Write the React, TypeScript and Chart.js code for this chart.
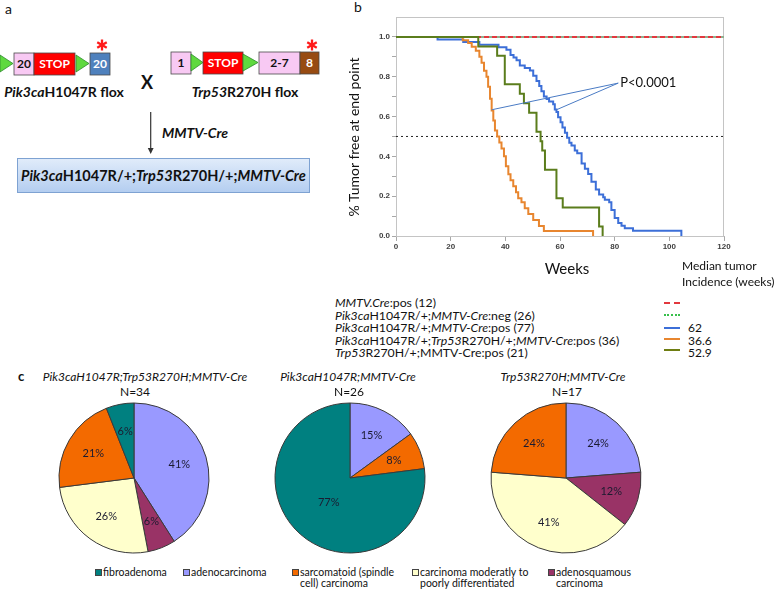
import React, { useEffect, useRef } from "react";
import { Chart, registerables } from "chart.js";
Chart.register(...registerables);

// ---------------- Panel b : Kaplan–Meier data ----------------
const xTickValues = [0, 20, 40, 60, 80, 100, 120];
const yTickValues = [0, 0.2, 0.4, 0.6, 0.8, 1.0];

// Pik3caH1047R/+;MMTV-Cre:pos (77)
const pikWeeks = [0, 15.2, 24.6, 30.5, 37.5, 40.4, 41.9, 43.0, 44.1, 45.3, 47.1, 49.0, 50.2, 51.4, 52.4, 53.2, 54.1, 55.1, 56.0, 57.5, 58.1, 58.7, 59.3, 60.2, 60.9, 61.8, 62.6, 63.4, 64.2, 65.4, 66.3, 67.9, 69.1, 70.3, 71.5, 73.1, 74.3, 75.8, 76.4, 78.0, 78.8, 80.0, 81.3, 82.5, 83.7, 86.7, 104.4];
const pikSurv = [1, 0.987, 0.974, 0.961, 0.948, 0.935, 0.909, 0.896, 0.883, 0.857, 0.844, 0.831, 0.805, 0.779, 0.753, 0.727, 0.701, 0.688, 0.675, 0.662, 0.636, 0.623, 0.597, 0.571, 0.545, 0.519, 0.494, 0.468, 0.455, 0.429, 0.416, 0.364, 0.338, 0.312, 0.273, 0.234, 0.208, 0.195, 0.182, 0.169, 0.130, 0.091, 0.065, 0.052, 0.039, 0.026, 0];

// Pik3caH1047R/+;Trp53R270H/+;MMTV-Cre:pos (36)
const dblWeeks = [0, 24.4, 26.4, 27.7, 29.2, 30.5, 31.3, 32.2, 33.1, 33.7, 34.4, 35.0, 35.6, 36.2, 37.0, 37.8, 38.6, 39.5, 40.2, 41.1, 41.9, 42.9, 43.9, 44.7, 45.9, 47.1, 48.4, 50.2, 52.3, 54.1, 72.1];
const dblSurv = [1, 0.983, 0.97, 0.95, 0.93, 0.90, 0.87, 0.83, 0.80, 0.75, 0.69, 0.63, 0.58, 0.53, 0.50, 0.47, 0.44, 0.40, 0.35, 0.31, 0.28, 0.25, 0.22, 0.19, 0.17, 0.14, 0.11, 0.08, 0.05, 0.025, 0];

// Trp53R270H/+;MMTV-Cre:pos (21)
const trpWeeks = [0, 30.1, 37.0, 39.8, 45.3, 46.8, 48.7, 51.4, 52.9, 53.5, 54.5, 58.7, 61.0, 74.3, 75.6];
const trpSurv = [1, 0.952, 0.905, 0.762, 0.714, 0.667, 0.619, 0.524, 0.476, 0.429, 0.333, 0.190, 0.143, 0.048, 0];

// MMTV.Cre:pos (12) and Pik3ca...:neg (26) : no tumours
const ctrlWeeks = [0, 120];
const ctrlSurv = [1, 1];
const medianLine = [0.5, 0.5];

const pText = "P<0.0001";
const pAnchor = [81.3, 0.768];
const pTargetA = [35.0, 0.634];
const pTargetB = [58.7, 0.634];

const groupMedians = ["", "", "62", "36.6", "52.9"];

// ---------------- Panel c : pie data ----------------
const categories = ["fibroadenoma", "adenocarcinoma", "sarcomatoid (spindle cell) carcinoma", "carcinoma moderatly to poorly differentiated", "adenosquamous carcinoma"];
const pie1Cats = ["adenocarcinoma", "adenosquamous carcinoma", "carcinoma moderatly to poorly differentiated", "sarcomatoid (spindle cell) carcinoma", "fibroadenoma"];
const pie1Vals = [41, 6, 26, 21, 6];
const pie2Cats = ["adenocarcinoma", "sarcomatoid (spindle cell) carcinoma", "fibroadenoma"];
const pie2Vals = [15, 8, 77];
const pie3Cats = ["adenocarcinoma", "adenosquamous carcinoma", "carcinoma moderatly to poorly differentiated", "sarcomatoid (spindle cell) carcinoma"];
const pie3Vals = [24, 12, 41, 24];
const pieNs = ["N=34", "N=26", "N=17"];

// ---------------- styles (kept apart from data) ----------------
const catColor: Record<string, string> = {
  "fibroadenoma": "#008080",
  "adenocarcinoma": "#9999ff",
  "sarcomatoid (spindle cell) carcinoma": "#f36a00",
  "carcinoma moderatly to poorly differentiated": "#ffffcc",
  "adenosquamous carcinoma": "#993366",
};
const legendLines: Record<string, string[]> = {
  "fibroadenoma": ["fibroadenoma"],
  "adenocarcinoma": ["adenocarcinoma"],
  "sarcomatoid (spindle cell) carcinoma": ["sarcomatoid (spindle", "cell) carcinoma"],
  "carcinoma moderatly to poorly differentiated": ["carcinoma moderatly to", "poorly differentiated"],
  "adenosquamous carcinoma": ["adenosquamous", "carcinoma"],
};
const legendX = [95, 183, 292, 412, 548];
const BLUE = "#3c6fd8";
const ORANGE = "#e8862f";
const OLIVE = "#5b7d1c";
const RED = "#e2383e";
const LGREEN = "#38c04c";
const FONT = "Lato, 'Open Sans', sans-serif";

const toXY = (xs: number[], ys: number[]) => xs.map((x, i) => ({ x, y: ys[i] }));

const framePlugin = {
  id: "frame",
  beforeDatasetsDraw(chart: any) {
    const { ctx, chartArea } = chart;
    ctx.save();
    ctx.strokeStyle = "#c4c4c4";
    ctx.lineWidth = 1;
    ctx.strokeRect(chartArea.left + 0.5, chartArea.top + 0.5, chartArea.right - chartArea.left - 1, chartArea.bottom - chartArea.top);
    ctx.restore();
  },
};

const pLabelPlugin = {
  id: "plabel",
  afterDatasetsDraw(chart: any) {
    const { ctx, scales } = chart;
    ctx.save();
    ctx.font = `13px ${FONT}`;
    ctx.fillStyle = "#111";
    ctx.textAlign = "left";
    ctx.textBaseline = "middle";
    ctx.fillText(pText, scales.x.getPixelForValue(pAnchor[0]) + 2, scales.y.getPixelForValue(pAnchor[1]));
    ctx.restore();
  },
};

const pieLabelPlugin = {
  id: "pielabels",
  afterDatasetsDraw(chart: any) {
    const { ctx } = chart;
    const meta = chart.getDatasetMeta(0);
    const vals = chart.data.datasets[0].data as number[];
    const total = vals.reduce((a, b) => a + b, 0);
    ctx.save();
    ctx.font = `11px ${FONT}`;
    ctx.fillStyle = "#1b1b30";
    ctx.textAlign = "center";
    ctx.textBaseline = "middle";
    meta.data.forEach((arc: any, i: number) => {
      const p = arc.getProps(["x", "y", "startAngle", "endAngle", "outerRadius"], true);
      const mid = (p.startAngle + p.endAngle) / 2;
      const f = vals[i] / total > 0.5 ? 0.43 : 0.63;
      ctx.fillText(vals[i] + "%", p.x + Math.cos(mid) * p.outerRadius * f, p.y + Math.sin(mid) * p.outerRadius * f);
    });
    ctx.restore();
  },
};

function kmConfig(): any {
  const line = (data: any, color: string, width: number, extra: any = {}) => ({
    data,
    borderColor: color,
    borderWidth: width,
    pointRadius: 0,
    fill: false,
    tension: 0,
    ...extra,
  });
  return {
    type: "line",
    data: {
      datasets: [
        line([{ x: pAnchor[0], y: pAnchor[1] }, { x: pTargetA[0], y: pTargetA[1] }], "#4a7bc4", 1),
        line([{ x: pAnchor[0], y: pAnchor[1] }, { x: pTargetB[0], y: pTargetB[1] }], "#4a7bc4", 1),
        line(toXY(trpWeeks, trpSurv), OLIVE, 2, { stepped: "before" }),
        line(toXY(dblWeeks, dblSurv), ORANGE, 2, { stepped: "before" }),
        line(toXY(pikWeeks, pikSurv), BLUE, 2, { stepped: "before" }),
        line(toXY(ctrlWeeks, ctrlSurv), RED, 2, { borderDash: [5, 3] }),
        line(toXY(ctrlWeeks, ctrlSurv), "#8fb08f", 2),
        line(toXY(ctrlWeeks, medianLine), "#222", 1, { borderDash: [2, 3] }),
      ],
    },
    options: {
      responsive: false,
      animation: false,
      events: [],
      layout: { padding: { left: 0, right: 54, top: 17, bottom: 0 } },
      plugins: { legend: { display: false }, tooltip: { enabled: false } },
      scales: {
        x: {
          type: "linear",
          min: 0,
          max: 120,
          afterFit: (s: any) => { s.height = 26; },
          afterBuildTicks: (s: any) => { s.ticks = xTickValues.map((v) => ({ value: v })); },
          ticks: { font: { family: "'Liberation Sans', Arial", weight: "bold", size: 8 }, color: "#404040", padding: 1, maxRotation: 0 },
          grid: { drawOnChartArea: false, drawTicks: true, tickLength: 5, color: "#a8a8a8" },
          border: { display: true, color: "#b4b4b4" },
        },
        y: {
          type: "linear",
          min: 0,
          max: 1.1,
          afterFit: (s: any) => { s.width = 56; },
          afterBuildTicks: (s: any) => {
            const t: any[] = [];
            for (let i = 0; i <= 10; i++) t.push({ value: i / 10 });
            s.ticks = t;
          },
          ticks: {
            font: { family: "'Liberation Sans', Arial", weight: "bold", size: 8 },
            color: "#404040",
            padding: 2,
            callback: (v: number) => {
              const hit = yTickValues.find((t) => Math.abs(t - v) < 1e-6);
              return hit === undefined ? "" : hit.toFixed(1);
            },
          },
          grid: { drawOnChartArea: false, drawTicks: true, tickLength: 4, color: "#a8a8a8" },
          border: { display: true, color: "#b4b4b4" },
        },
      },
    },
    plugins: [framePlugin, pLabelPlugin],
  };
}

function pieConfig(cats: string[], vals: number[]): any {
  return {
    type: "pie",
    data: {
      labels: cats,
      datasets: [{ data: vals, backgroundColor: cats.map((c) => catColor[c]), borderColor: "#3a3a3a", borderWidth: 1 }],
    },
    options: {
      responsive: false,
      animation: false,
      events: [],
      radius: 75,
      layout: { padding: 0 },
      plugins: { legend: { display: false }, tooltip: { enabled: false } },
    },
    plugins: [pieLabelPlugin],
  };
}

const abs = (x: number, y: number, extra: any = {}): React.CSSProperties => ({
  position: "absolute",
  left: x,
  top: y,
  whiteSpace: "nowrap",
  ...extra,
});

function Txt({ x, y, size = 12, center = false, children, style = {} }: any) {
  return (
    <div
      style={abs(x, y - size * 0.6, {
        fontSize: size,
        lineHeight: `${size * 1.2}px`,
        transform: center ? "translateX(-50%)" : undefined,
        color: "#111",
        ...style,
      })}
    >
      {children}
    </div>
  );
}

function Asterisk({ cx, cy }: { cx: number; cy: number }) {
  const r = 5.5;
  const angles = [90, 30, 150];
  return (
    <g stroke="#ff1a1a" strokeWidth={2.3}>
      {angles.map((a) => {
        const rad = (a * Math.PI) / 180;
        return <line key={a} x1={cx - Math.cos(rad) * r} y1={cy - Math.sin(rad) * r} x2={cx + Math.cos(rad) * r} y2={cy + Math.sin(rad) * r} />;
      })}
    </g>
  );
}

function Tri({ x0, x1, y0, y1 }: any) {
  return <polygon points={`${x0},${y0} ${x1},${(y0 + y1) / 2} ${x0},${y1}`} fill="#5fd93f" stroke="#2f8a2f" strokeWidth={0.8} />;
}

function Box({ x, w, y, h, fill, label, color }: any) {
  return (
    <g>
      <rect x={x} y={y} width={w} height={h} fill={fill} stroke="#4a4a4a" strokeWidth={0.8} />
      <text x={x + w / 2} y={y + h / 2 + 4.2} textAnchor="middle" fontSize={12} fontWeight="bold" fill={color} fontFamily={FONT}>
        {label}
      </text>
    </g>
  );
}

function PanelA() {
  const y = 53, h = 22;
  return (
    <svg width={340} height={200} style={abs(0, 0)}>
      <defs>
        <linearGradient id="bx" x1="0" y1="0" x2="0" y2="1">
          <stop offset="0" stopColor="#e1ecfa" />
          <stop offset="1" stopColor="#b3cdf0" />
        </linearGradient>
      </defs>
      <Tri x0={0} x1={13} y0={55} y1={72} />
      <Box x={14} w={20} y={y} h={h} fill="#f8c9f3" label="20" color="#111" />
      <Box x={34} w={41} y={y} h={h} fill="#ff0000" label="STOP" color="#fff" />
      <Tri x0={76} x1={89} y0={55} y1={72} />
      <Box x={90} w={20} y={y} h={h} fill="#4f81bd" label="20" color="#fff" />
      <Asterisk cx={102} cy={45} />
      <text x={147} y={88.5} textAnchor="middle" fontSize={18} fontWeight="bold" fontFamily={FONT} fill="#111">X</text>
      <text x={64} y={97} textAnchor="middle" fontSize={14} fontWeight="bold" fontFamily={FONT} fill="#111">
        <tspan fontStyle="italic">Pik3ca</tspan>H1047R flox
      </text>

      <Box x={171} w={20} y={y - 1} h={h} fill="#f8c9f3" label="1" color="#111" />
      <Tri x0={191} x1={203} y0={54} y1={71} />
      <Box x={203} w={40} y={y - 1} h={h} fill="#ff0000" label="STOP" color="#fff" />
      <Tri x0={243} x1={258} y0={54} y1={71} />
      <Box x={259} w={41} y={y - 1} h={h} fill="#f8c9f3" label="2-7" color="#111" />
      <Box x={300} w={19} y={y - 1} h={h} fill="#974b12" label="8" color="#fff" />
      <Asterisk cx={312} cy={45} />
      <text x={245} y={97} textAnchor="middle" fontSize={14} fontWeight="bold" fontFamily={FONT} fill="#111">
        <tspan fontStyle="italic">Trp53</tspan>R270H flox
      </text>

      <line x1={150.7} y1={112} x2={150.7} y2={149} stroke="#333" strokeWidth={1.2} />
      <polygon points="147.8,148 153.6,148 150.7,154" fill="#333" />
      <text x={162} y={138} fontSize={14} fontWeight="bold" fontStyle="italic" fontFamily={FONT} fill="#111">MMTV-Cre</text>

      <rect x={17.5} y={158.5} width={292} height={34} fill="url(#bx)" stroke="#7ea2d2" strokeWidth={1} />
      <text x={163.5} y={181} textAnchor="middle" fontSize={14.5} fontWeight="bold" fontFamily={FONT} fill="#111">
        <tspan fontStyle="italic">Pik3ca</tspan>H1047R/+;<tspan fontStyle="italic">Trp53</tspan>R270H/+;<tspan fontStyle="italic">MMTV-Cre</tspan>
      </text>
    </svg>
  );
}

function LegendMark({ y, kind, color }: any) {
  const base: any = { position: "absolute", left: 664, top: y - 1.25, width: 16, height: 0 };
  if (kind === "dash") return <div style={{ ...base, borderTop: `2.5px dashed ${color}` }} />;
  if (kind === "dot") return <div style={{ ...base, borderTop: `2.5px dotted ${color}` }} />;
  return <div style={{ ...base, borderTop: `2.5px solid ${color}` }} />;
}

export default function App() {
  const kmRef = useRef<HTMLCanvasElement>(null);
  const p1 = useRef<HTMLCanvasElement>(null);
  const p2 = useRef<HTMLCanvasElement>(null);
  const p3 = useRef<HTMLCanvasElement>(null);

  useEffect(() => {
    const charts: Chart[] = [];
    charts.push(new Chart(kmRef.current!, kmConfig()));
    charts.push(new Chart(p1.current!, pieConfig(pie1Cats, pie1Vals)));
    charts.push(new Chart(p2.current!, pieConfig(pie2Cats, pie2Vals)));
    charts.push(new Chart(p3.current!, pieConfig(pie3Cats, pie3Vals)));
    return () => charts.forEach((c) => c.destroy());
  }, []);

  const legY = [303.5, 316, 328.5, 341, 353.5];
  const markKinds = [
    { kind: "dash", color: RED, y: 303 },
    { kind: "dot", color: LGREEN, y: 315 },
    { kind: "solid", color: BLUE, y: 328 },
    { kind: "solid", color: ORANGE, y: 339 },
    { kind: "solid", color: "#6e7d12", y: 350.5 },
  ];
  const groupText = [
    <><i>MMTV.Cre</i>:pos (12)</>,
    <><i>Pik3ca</i>H1047R/+;<i>MMTV-Cre</i>:neg (26)</>,
    <><i>Pik3ca</i>H1047R/+;<i>MMTV-Cre</i>:pos (77)</>,
    <><i>Pik3ca</i>H1047R/+;<i>Trp53</i>R270H/+;<i>MMTV-Cre</i>:pos (36)</>,
    <><i>Trp53</i>R270H/+;MMTV-Cre:pos (21)</>,
  ];
  const pieCenters = [134, 350, 566];
  const pieTitles = [
    { t: "Pik3caH1047R;Trp53R270H;MMTV-Cre", x: 145, nx: 135 },
    { t: "Pik3caH1047R;MMTV-Cre", x: 348, nx: 349 },
    { t: "Trp53R270H;MMTV-Cre", x: 563, nx: 567 },
  ];
  const pieRefs = [p1, p2, p3];

  return (
    <div style={{ position: "absolute", left: 0, top: 0, width: 778, height: 590, background: "#fff", overflow: "hidden", fontFamily: FONT, color: "#111" }}>
      <Txt x={5} y={9} size={14}>a</Txt>
      <PanelA />

      <Txt x={354} y={7} size={14}>b</Txt>
      <canvas ref={kmRef} width={438} height={262} style={abs(340, 0)} />
      <div style={abs(353, 137, { transform: "translate(-50%,-50%) rotate(-90deg)", fontSize: 14, lineHeight: "17px" })}>% Tumor free at end point</div>
      <Txt x={567} y={268} size={15} center>Weeks</Txt>
      <Txt x={682} y={266} size={12}>Median tumor</Txt>
      <Txt x={682} y={282} size={12}>Incidence (weeks)</Txt>

      {groupText.map((g, i) => (
        <Txt key={i} x={335} y={legY[i]} size={12.3} style={{ lineHeight: "14px" }}>{g}</Txt>
      ))}
      {markKinds.map((m, i) => (
        <LegendMark key={i} y={m.y} kind={m.kind} color={m.color} />
      ))}
      {groupMedians.map((m, i) => (m ? <Txt key={i} x={688} y={legY[i]} size={12}>{m}</Txt> : null))}

      <Txt x={18} y={377} size={13} style={{ fontWeight: "bold" }}>c</Txt>
      {pieTitles.map((p, i) => (
        <React.Fragment key={i}>
          <Txt x={p.x} y={377} size={12} center style={{ fontStyle: "italic" }}>{p.t}</Txt>
          <Txt x={p.nx} y={392} size={12} center>{pieNs[i]}</Txt>
        </React.Fragment>
      ))}
      {pieRefs.map((r, i) => (
        <canvas key={i} ref={r} width={160} height={160} style={abs(pieCenters[i] - 80, 478 - 80)} />
      ))}

      {categories.map((c, i) => (
        <React.Fragment key={c}>
          <div style={abs(legendX[i], 569, { width: 5, height: 5, background: catColor[c], border: "0.8px solid #444" })} />
          {legendLines[c].map((ln, j) => (
            <Txt key={j} x={legendX[i] + 8} y={572.5 + j * 11} size={10.5}>{ln}</Txt>
          ))}
        </React.Fragment>
      ))}
    </div>
  );
}
